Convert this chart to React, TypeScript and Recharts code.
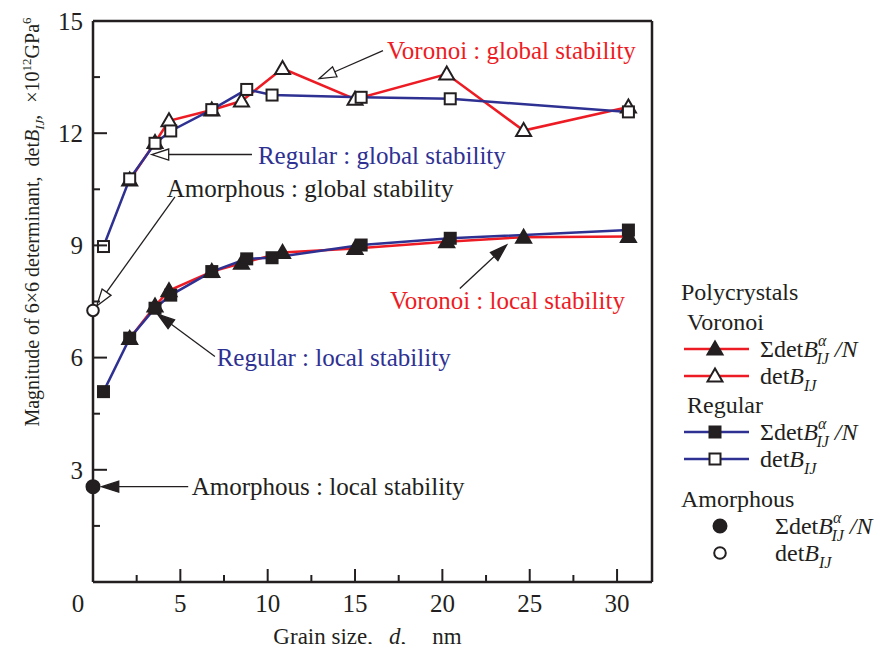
import React from 'react';
import { ComposedChart, Line, XAxis, YAxis, ReferenceLine, ReferenceDot, Legend } from 'recharts';

const FONT = '"Liberation Serif", "Times New Roman", Times, serif';
const RED = '#ed1c24';
const BLUE = '#2e3192';
const INK = '#231f20';

// ---------- data ----------
const voronoiSize = [2.1, 3.55, 4.35, 6.8, 8.5, 10.85, 15.0, 20.25, 24.65, 30.65];
const voronoiGlobal = [10.75, 11.75, 12.33, 12.62, 12.86, 13.73, 12.91, 13.58, 12.07, 12.7];
const voronoiLocal = [6.51, 7.38, 7.79, 8.3, 8.52, 8.81, 8.92, 9.1, 9.22, 9.24];

const regularSize = [0.6, 2.1, 3.55, 4.45, 6.8, 8.8, 10.25, 15.35, 20.45, 30.65];
const regularGlobal = [8.97, 10.78, 11.73, 12.06, 12.63, 13.17, 13.02, 12.96, 12.92, 12.57];
const regularLocal = [5.09, 6.52, 7.32, 7.67, 8.3, 8.64, 8.67, 9.01, 9.19, 9.41];

const amorphousSize = [0];
const amorphousGlobal = [7.26];
const amorphousLocal = [2.55];

const xTicks = [0, 2.5, 5, 7.5, 10, 12.5, 15, 17.5, 20, 22.5, 25, 27.5, 30];
const yTicks = [0, 1.5, 3, 4.5, 6, 7.5, 9, 10.5, 12, 13.5, 15];

const annotationText = [
  'Voronoi : global stability',
  'Regular : global stability',
  'Amorphous : global stability',
  'Voronoi : local stability',
  'Regular : local stability',
  'Amorphous : local stability',
];
const annotationTextX = [16.83, 9.44, 4.22, 17.0, 7.08, 5.65];
const annotationTextY = [14.22, 11.42, 10.53, 7.54, 6.02, 2.55];
const arrowTailX = [16.6, 9.1, 4.69, 21.0, 6.98, 5.45];
const arrowTailY = [14.21, 11.43, 10.3, 7.85, 6.03, 2.55];
const arrowTipX = [12.95, 3.36, 0.21, 23.68, 3.7, 0.5];
const arrowTipY = [13.46, 11.43, 7.38, 9.01, 7.16, 2.55];
const arrowFilled = [false, false, false, true, true, true];
const annotationColor = [RED, BLUE, INK, RED, BLUE, INK];

const zip = (xs: number[], ys: number[]) => xs.map((x, i) => ({ x, y: ys[i] }));

// ---------- markers ----------
type Shape = 'triangle' | 'square' | 'circle';
const Marker = ({ shape, filled, cx, cy }: { shape: Shape; filled: boolean; cx: number; cy: number }) => {
  const fill = filled ? INK : '#fff';
  if (shape === 'triangle') {
    return (
      <path
        d={`M${cx},${cy - 7.5} L${cx + 7.5},${cy + 5.5} L${cx - 7.5},${cy + 5.5} Z`}
        fill={fill}
        stroke={INK}
        strokeWidth={2}
        strokeLinejoin="miter"
      />
    );
  }
  if (shape === 'square') {
    return <rect x={cx - 5.5} y={cy - 5.5} width={11} height={11} fill={fill} stroke={INK} strokeWidth={2} />;
  }
  return <circle cx={cx} cy={cy} r={filled ? 6.5 : 5.8} fill={fill} stroke={INK} strokeWidth={2} />;
};

const dotOf = (shape: Shape, filled: boolean) => (p: any) => {
  if (p.cx == null || p.cy == null) return <g key={`d${p.index}`} />;
  return (
    <g key={`d${p.index}`}>
      <Marker shape={shape} filled={filled} cx={p.cx} cy={p.cy} />
    </g>
  );
};

// ---------- axes ticks ----------
const BottomTick = (props: any) => {
  const { x, y, payload } = props;
  const v = payload.value;
  const major = v % 5 === 0;
  return (
    <g>
      <line x1={x} y1={y} x2={x} y2={y - (major ? 13 : 7)} stroke={INK} strokeWidth={2} />
      {major && (
        <text x={x + (v === 0 ? -15 : 0)} y={y + 30} textAnchor="middle" fontSize={25} fontFamily={FONT} fill={INK}>
          {v}
        </text>
      )}
    </g>
  );
};
const TopTick = (props: any) => {
  const { x, y, payload } = props;
  const major = payload.value % 5 === 0;
  return <line x1={x} y1={y} x2={x} y2={y + (major ? 13 : 7)} stroke={INK} strokeWidth={2} />;
};
const LeftTick = (props: any) => {
  const { x, y, payload } = props;
  const v = payload.value;
  const major = v % 3 === 0;
  return (
    <g>
      <line x1={x} y1={y} x2={x + (major ? 14 : 7)} y2={y} stroke={INK} strokeWidth={2} />
      {major && v !== 0 && (
        <text x={x - 10} y={y} dy="0.35em" textAnchor="end" fontSize={25} fontFamily={FONT} fill={INK}>
          {v}
        </text>
      )}
    </g>
  );
};
const RightTick = (props: any) => {
  const { x, y, payload } = props;
  const major = payload.value % 3 === 0;
  return <line x1={x} y1={y} x2={x - (major ? 14 : 7)} y2={y} stroke={INK} strokeWidth={2} />;
};

// ---------- titles ----------
const YTitle = (props: any) => {
  const vb = props.viewBox || { x: 0, y: 13 };
  const cx = vb.x + 24;
  const cy = vb.y + 201;
  return (
    <text
      x={cx}
      y={cy}
      dy="0.35em"
      textAnchor="middle"
      transform={`rotate(-90 ${cx} ${cy})`}
      fontSize={20}
      fontFamily={FONT}
      fill={INK}
    >
      Magnitude of 6×6 determinant,
      <tspan dx={10}>det</tspan>
      <tspan fontStyle="italic">B</tspan>
      <tspan fontStyle="italic" fontSize={13} dy={5}>IJ</tspan>
      <tspan dy={-5}>,</tspan>
      <tspan dx={12}>×10</tspan>
      <tspan fontSize={13} dy={-8}>12</tspan>
      <tspan dy={8}>GPa</tspan>
      <tspan fontSize={13} dy={-8}>6</tspan>
    </text>
  );
};
const XTitle = (props: any) => {
  const vb = props.viewBox || { x: 85, y: 574, width: 559 };
  const cx = vb.x + vb.width / 2 - 5;
  const y = vb.y + 62;
  return (
    <text x={cx} y={y} textAnchor="middle" fontSize={23} fontFamily={FONT} fill={INK}>
      Grain size,
      <tspan dx={16} fontStyle="italic">d</tspan>
      <tspan>,</tspan>
      <tspan dx={26}>nm</tspan>
    </text>
  );
};

// ---------- annotations ----------
const arrowShape = (filled: boolean) => (props: any) => {
  const { x1, y1, x2, y2 } = props;
  const dx = x2 - x1;
  const dy = y2 - y1;
  const len = Math.hypot(dx, dy) || 1;
  const ux = dx / len;
  const uy = dy / len;
  const hl = 17;
  const hw = 5.5;
  const bx = x2 - ux * hl;
  const by = y2 - uy * hl;
  const px = -uy;
  const py = ux;
  return (
    <g>
      <line x1={x1} y1={y1} x2={bx} y2={by} stroke={INK} strokeWidth={1.3} />
      <path
        d={`M${x2},${y2} L${bx + px * hw},${by + py * hw} L${bx - px * hw},${by - py * hw} Z`}
        fill={filled ? INK : '#fff'}
        stroke={INK}
        strokeWidth={1.3}
      />
    </g>
  );
};
const labelShape = (text: string, color: string) => (p: any) => (
  <text x={p.cx} y={p.cy} dy="0.35em" fontSize={25} fontFamily={FONT} fill={color}>
    {text}
  </text>
);

// ---------- legend ----------
const SumDet = ({ x, y }: { x: number; y: number }) => (
  <text x={x} y={y} fontSize={24} fontFamily={FONT} fill={INK}>
    Σdet<tspan fontStyle="italic">B</tspan>
    <tspan fontStyle="italic" fontSize={16} dy={-11}>α</tspan>
    <tspan fontStyle="italic" fontSize={16} dx={-10} dy={18}>IJ</tspan>
    <tspan fontStyle="italic" dx={6} dy={-7}>/N</tspan>
  </text>
);
const DetB = ({ x, y }: { x: number; y: number }) => (
  <text x={x} y={y} fontSize={24} fontFamily={FONT} fill={INK}>
    det<tspan fontStyle="italic">B</tspan>
    <tspan fontStyle="italic" fontSize={16} dy={7}>IJ</tspan>
  </text>
);
const LegendContent = () => (
  <svg width={214} height={300} style={{ display: 'block' }}>
    <text x={21} y={30} fontSize={24} fontFamily={FONT} fill={INK}>Polycrystals</text>
    <text x={27} y={60} fontSize={24} fontFamily={FONT} fill={INK}>Voronoi</text>
    <line x1={24} x2={89} y1={79} y2={79} stroke={RED} strokeWidth={2.5} />
    <Marker shape="triangle" filled cx={55} cy={79} />
    <SumDet x={100} y={87} />
    <line x1={24} x2={89} y1={106} y2={106} stroke={RED} strokeWidth={2.5} />
    <Marker shape="triangle" filled={false} cx={55} cy={106} />
    <DetB x={100} y={114} />
    <text x={27} y={143} fontSize={24} fontFamily={FONT} fill={INK}>Regular</text>
    <line x1={24} x2={89} y1={162} y2={162} stroke={BLUE} strokeWidth={2.5} />
    <Marker shape="square" filled cx={55} cy={162} />
    <SumDet x={100} y={170} />
    <line x1={24} x2={89} y1={189} y2={189} stroke={BLUE} strokeWidth={2.5} />
    <Marker shape="square" filled={false} cx={55} cy={189} />
    <DetB x={100} y={197} />
    <text x={21} y={237} fontSize={24} fontFamily={FONT} fill={INK}>Amorphous</text>
    <Marker shape="circle" filled cx={60} cy={256} />
    <SumDet x={115} y={264} />
    <Marker shape="circle" filled={false} cx={60} cy={283} />
    <DetB x={115} y={291} />
  </svg>
);

export default function App() {
  return (
    <div style={{ width: 866, height: 636 }}>
      <ComposedChart width={866} height={644} margin={{ top: 12, right: 221, bottom: 8, left: 0 }}>
        <XAxis
          xAxisId={0}
          dataKey="x"
          type="number"
          domain={[0, 32]}
          ticks={xTicks}
          interval={0}
          height={62}
          tickSize={0}
          tickMargin={0}
          tickLine={false}
          axisLine={{ stroke: INK, strokeWidth: 2.5 }}
          tick={BottomTick}
          label={{ content: XTitle }}
        />
        <XAxis
          xAxisId="top"
          orientation="top"
          type="number"
          domain={[0, 32]}
          ticks={xTicks}
          interval={0}
          height={1}
          tickSize={0}
          tickMargin={0}
          tickLine={false}
          axisLine={{ stroke: INK, strokeWidth: 2.5 }}
          tick={TopTick}
        />
        <YAxis
          yAxisId={0}
          type="number"
          domain={[0, 15]}
          ticks={yTicks}
          interval={0}
          width={85}
          tickSize={0}
          tickMargin={0}
          tickLine={false}
          axisLine={{ stroke: INK, strokeWidth: 2.5 }}
          tick={LeftTick}
          label={{ content: YTitle }}
        />
        <YAxis
          yAxisId="right"
          orientation="right"
          type="number"
          domain={[0, 15]}
          ticks={yTicks}
          interval={0}
          width={1}
          tickSize={0}
          tickMargin={0}
          tickLine={false}
          axisLine={{ stroke: INK, strokeWidth: 2.5 }}
          tick={RightTick}
        />

        {annotationText.map((t, i) => (
          <ReferenceLine
            key={`a${i}`}
            segment={[
              { x: arrowTailX[i], y: arrowTailY[i] },
              { x: arrowTipX[i], y: arrowTipY[i] },
            ]}
            shape={arrowShape(arrowFilled[i])}
          />
        ))}
        {annotationText.map((t, i) => (
          <ReferenceDot
            key={`t${i}`}
            x={annotationTextX[i]}
            y={annotationTextY[i]}
            r={0}
            shape={labelShape(t, annotationColor[i])}
          />
        ))}

        <Line
          data={zip(voronoiSize, voronoiGlobal)}
          dataKey="y"
          stroke={RED}
          strokeWidth={2.5}
          dot={dotOf('triangle', false)}
          activeDot={false}
          isAnimationActive={false}
        />
        <Line
          data={zip(voronoiSize, voronoiLocal)}
          dataKey="y"
          stroke={RED}
          strokeWidth={2.5}
          dot={dotOf('triangle', true)}
          activeDot={false}
          isAnimationActive={false}
        />
        <Line
          data={zip(regularSize, regularGlobal)}
          dataKey="y"
          stroke={BLUE}
          strokeWidth={2.5}
          dot={dotOf('square', false)}
          activeDot={false}
          isAnimationActive={false}
        />
        <Line
          data={zip(regularSize, regularLocal)}
          dataKey="y"
          stroke={BLUE}
          strokeWidth={2.5}
          dot={dotOf('square', true)}
          activeDot={false}
          isAnimationActive={false}
        />
        <Line
          data={zip(amorphousSize, amorphousGlobal)}
          dataKey="y"
          stroke="none"
          dot={dotOf('circle', false)}
          activeDot={false}
          isAnimationActive={false}
        />
        <Line
          data={zip(amorphousSize, amorphousLocal)}
          dataKey="y"
          stroke="none"
          dot={dotOf('circle', true)}
          activeDot={false}
          isAnimationActive={false}
        />
        <Legend
          layout="vertical"
          align="center"
          verticalAlign="middle"
          content={LegendContent}
          wrapperStyle={{ left: 652, top: 262, width: 214, height: 300 }}
        />
      </ComposedChart>
    </div>
  );
}
